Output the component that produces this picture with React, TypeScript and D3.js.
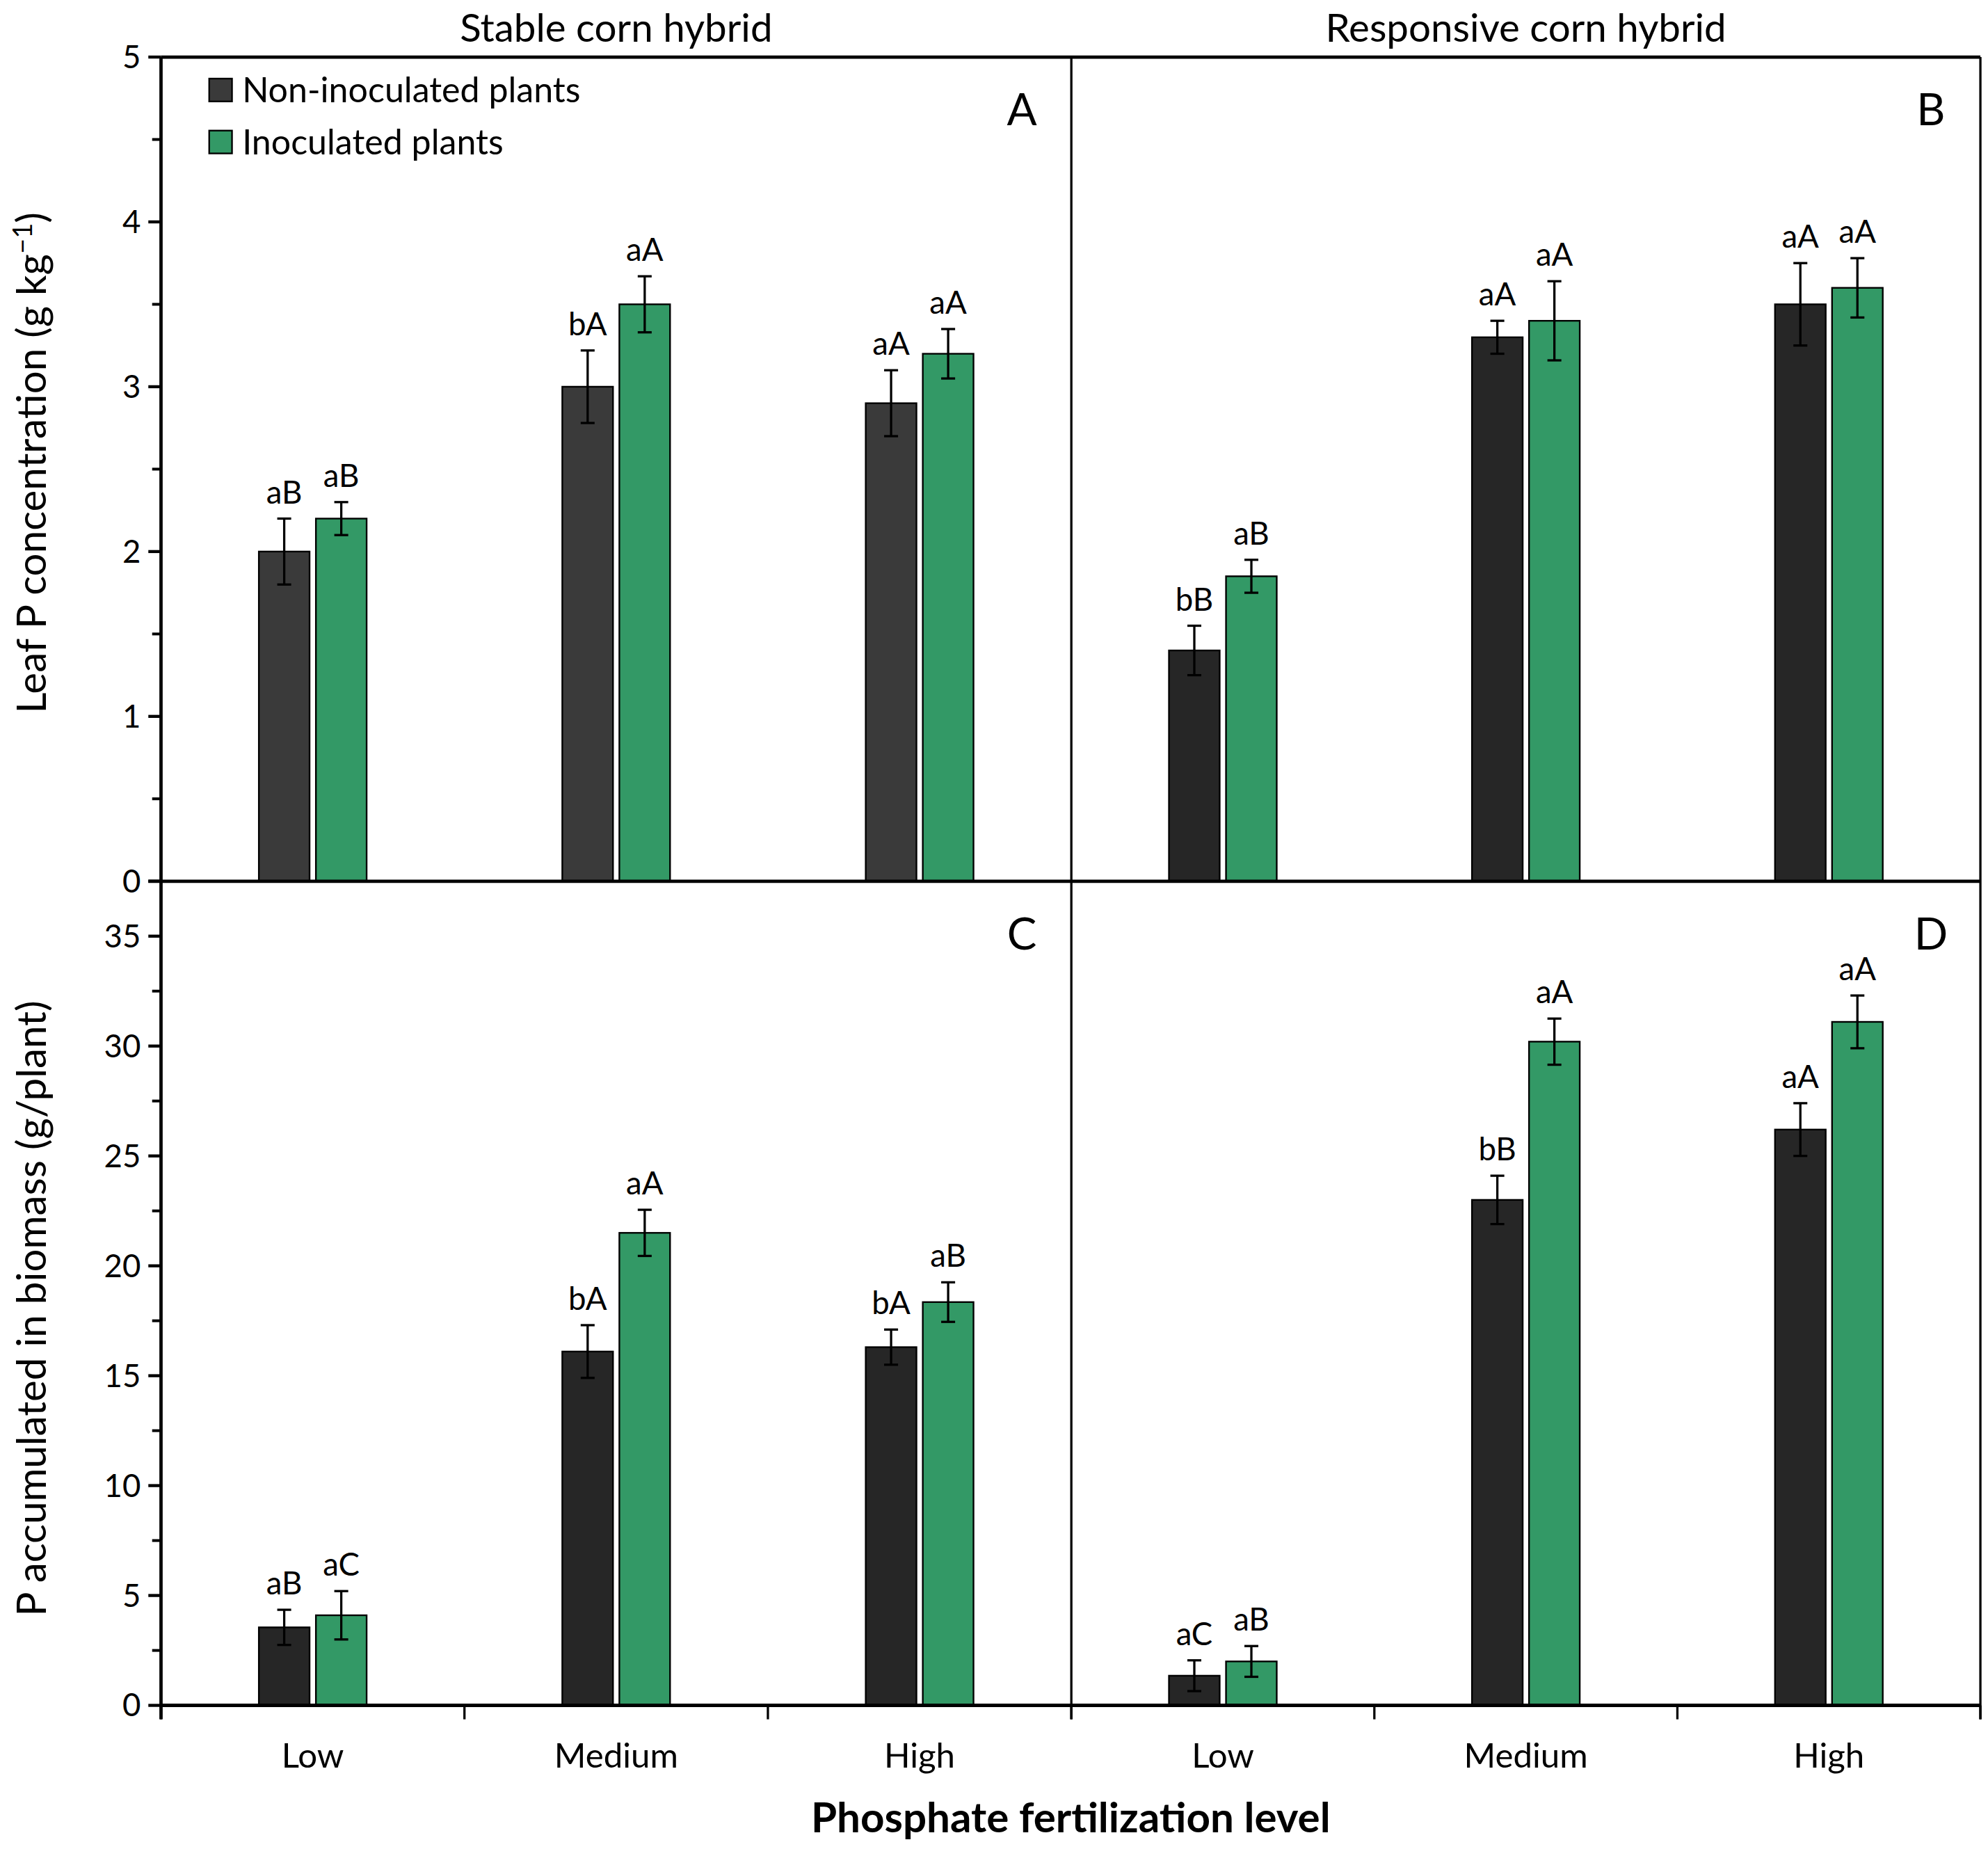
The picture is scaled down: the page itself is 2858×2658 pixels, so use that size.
import * as d3 from "d3";

// categories and series
const LEVELS = ["Low", "Medium", "High"];
const SERIES = ["Non-inoculated plants", "Inoculated plants"];

// Panel A: stable hybrid, leaf P (g/kg)
const stableLeafNon = [2.0, 3.0, 2.9];
const stableLeafNonErr = [0.2, 0.22, 0.2];
const stableLeafIno = [2.2, 3.5, 3.2];
const stableLeafInoErr = [0.1, 0.17, 0.15];
const stableLeafNonLbl = ["aB", "bA", "aA"];
const stableLeafInoLbl = ["aB", "aA", "aA"];

// Panel B: responsive hybrid, leaf P
const respLeafNon = [1.4, 3.3, 3.5];
const respLeafNonErr = [0.15, 0.1, 0.25];
const respLeafIno = [1.85, 3.4, 3.6];
const respLeafInoErr = [0.1, 0.24, 0.18];
const respLeafNonLbl = ["bB", "aA", "aA"];
const respLeafInoLbl = ["aB", "aA", "aA"];

// Panel C: stable hybrid, P accumulated (g/plant)
const stableAccNon = [3.55, 16.1, 16.3];
const stableAccNonErr = [0.8, 1.2, 0.8];
const stableAccIno = [4.1, 21.5, 18.35];
const stableAccInoErr = [1.1, 1.05, 0.9];
const stableAccNonLbl = ["aB", "bA", "bA"];
const stableAccInoLbl = ["aC", "aA", "aB"];

// Panel D: responsive hybrid, P accumulated
const respAccNon = [1.35, 23.0, 26.2];
const respAccNonErr = [0.7, 1.1, 1.2];
const respAccIno = [2.0, 30.2, 31.1];
const respAccInoErr = [0.7, 1.05, 1.2];
const respAccNonLbl = ["aC", "bB", "aA"];
const respAccInoLbl = ["aB", "aA", "aA"];

const leafTicks = [0, 1, 2, 3, 4, 5];
const accTicks = [0, 5, 10, 15, 20, 25, 30, 35];

const FONT = "Lato, 'Open Sans', sans-serif";
const GREEN = "#339966";

// layout (drawn in a 1568-wide view box, scaled up to the page)
const VW = 1568;
const VH = (2658 * VW) / 2858;
const X0 = 127, XM = 845, X1 = 1562;
const YT = 45, YM = 695, YB = 1345;

type Panel = {
  letter: string;
  left: number;
  right: number;
  top: number;
  bottom: number;
  yMax: number;
  non: number[]; nonErr: number[]; ino: number[]; inoErr: number[];
  nonLbl: string[]; inoLbl: string[];
  nonColor: string;
};

const panels: Panel[] = [
  { letter: "A", left: X0, right: XM, top: YT, bottom: YM, yMax: 5,
    non: stableLeafNon, nonErr: stableLeafNonErr, ino: stableLeafIno, inoErr: stableLeafInoErr,
    nonLbl: stableLeafNonLbl, inoLbl: stableLeafInoLbl, nonColor: "#3a3a3a" },
  { letter: "B", left: XM, right: X1, top: YT, bottom: YM, yMax: 5,
    non: respLeafNon, nonErr: respLeafNonErr, ino: respLeafIno, inoErr: respLeafInoErr,
    nonLbl: respLeafNonLbl, inoLbl: respLeafInoLbl, nonColor: "#262626" },
  { letter: "C", left: X0, right: XM, top: YM, bottom: YB, yMax: 37.5,
    non: stableAccNon, nonErr: stableAccNonErr, ino: stableAccIno, inoErr: stableAccInoErr,
    nonLbl: stableAccNonLbl, inoLbl: stableAccInoLbl, nonColor: "#262626" },
  { letter: "D", left: XM, right: X1, top: YM, bottom: YB, yMax: 37.5,
    non: respAccNon, nonErr: respAccNonErr, ino: respAccIno, inoErr: respAccInoErr,
    nonLbl: respAccNonLbl, inoLbl: respAccInoLbl, nonColor: "#262626" },
];

function PanelBars({ p }: { p: Panel }) {
  const x = d3.scaleBand<string>().domain(LEVELS).range([p.left, p.right]);
  const y = d3.scaleLinear().domain([0, p.yMax]).range([p.bottom, p.top]);
  const barW = 40;
  const gap = 5;
  const series = [
    { vals: p.non, err: p.nonErr, lbl: p.nonLbl, color: p.nonColor, off: -gap / 2 - barW },
    { vals: p.ino, err: p.inoErr, lbl: p.inoLbl, color: GREEN, off: gap / 2 },
  ];
  return (
    <g>
      {series.map((s, si) =>
        LEVELS.map((lev, i) => {
          const cx = x(lev)! + x.bandwidth() / 2;
          const bx = cx + s.off;
          const mid = bx + barW / 2;
          const yv = y(s.vals[i]);
          const yHi = y(s.vals[i] + s.err[i]);
          const yLo = y(s.vals[i] - s.err[i]);
          return (
            <g key={`${si}-${i}`}>
              <rect x={bx} y={yv} width={barW} height={p.bottom - yv}
                fill={s.color} stroke="#000" strokeWidth={1.3} />
              <line x1={mid} x2={mid} y1={yHi} y2={yLo} stroke="#000" strokeWidth={1.8} />
              <line x1={mid - 5.5} x2={mid + 5.5} y1={yHi} y2={yHi} stroke="#000" strokeWidth={1.8} />
              <line x1={mid - 5.5} x2={mid + 5.5} y1={yLo} y2={yLo} stroke="#000" strokeWidth={1.8} />
              <text x={mid} y={yHi - 12} textAnchor="middle" fontSize={25}>{s.lbl[i]}</text>
            </g>
          );
        })
      )}
      <text x={p.right - 39} y={p.top + 54} textAnchor="middle" fontSize={35}>{p.letter}</text>
    </g>
  );
}

function YAxis({ top, bottom, yMax, ticks, minor }: { top: number; bottom: number; yMax: number; ticks: number[]; minor: number }) {
  const y = d3.scaleLinear().domain([0, yMax]).range([bottom, top]);
  const minors = d3.range(minor, yMax, minor * 2);
  return (
    <g>
      {ticks.map((t) => (
        <g key={`M${t}`}>
          <line x1={X0 - 10} x2={X0} y1={y(t)} y2={y(t)} stroke="#000" strokeWidth={2.4} />
          <text x={111} y={y(t)} dy="0.35em" textAnchor="end" fontSize={25}>{t}</text>
        </g>
      ))}
      {minors.map((t) => (
        <line key={`m${t}`} x1={X0 - 7} x2={X0} y1={y(t)} y2={y(t)} stroke="#000" strokeWidth={2.2} />
      ))}
    </g>
  );
}

export default function App() {
  const xl = d3.scaleBand<string>().domain(LEVELS).range([X0, XM]);
  const xr = d3.scaleBand<string>().domain(LEVELS).range([XM, X1]);
  const xTicks = [X0, X0 + xl.step(), X0 + 2 * xl.step(), XM, XM + xr.step(), XM + 2 * xr.step(), X1];
  return (
    <svg width={2858} height={2658} viewBox={`0 0 ${VW} ${VH}`}
      style={{ position: "absolute", left: 0, top: 0, background: "#fff" }}
      fontFamily={FONT} fill="#000">
      <rect x={0} y={0} width={VW} height={VH} fill="#fff" />

      {/* column titles */}
      <text x={(X0 + XM) / 2} y={33} textAnchor="middle" fontSize={31}>Stable corn hybrid</text>
      <text x={(XM + X1) / 2} y={33} textAnchor="middle" fontSize={31}>Responsive corn hybrid</text>

      {panels.map((p) => <PanelBars key={p.letter} p={p} />)}

      {/* frame lines */}
      <line x1={X0} x2={X1} y1={YT} y2={YT} stroke="#000" strokeWidth={2.6} />
      <line x1={X0} x2={X0} y1={YT} y2={YB + 11} stroke="#000" strokeWidth={2.6} />
      <line x1={X0 - 10} x2={X1} y1={YM} y2={YM} stroke="#000" strokeWidth={2.6} />
      <line x1={X0} x2={X1} y1={YB} y2={YB} stroke="#000" strokeWidth={2.8} />
      <line x1={XM} x2={XM} y1={YT} y2={YB + 11} stroke="#000" strokeWidth={1.8} />
      <line x1={X1} x2={X1} y1={YT} y2={YB + 11} stroke="#000" strokeWidth={1.8} />

      <YAxis top={YT} bottom={YM} yMax={5} ticks={leafTicks} minor={0.5} />
      <YAxis top={YM} bottom={YB} yMax={37.5} ticks={accTicks} minor={2.5} />

      {/* x ticks and category labels */}
      {xTicks.map((t, i) => (
        <line key={i} x1={t} x2={t} y1={YB} y2={YB + 11} stroke="#000" strokeWidth={1.8} />
      ))}
      {LEVELS.map((lev) => (
        <g key={lev}>
          <text x={xl(lev)! + xl.bandwidth() / 2} y={1394} textAnchor="middle" fontSize={27}>{lev}</text>
          <text x={xr(lev)! + xr.bandwidth() / 2} y={1394} textAnchor="middle" fontSize={27}>{lev}</text>
        </g>
      ))}

      {/* axis titles */}
      <text x={(X0 + X1) / 2} y={1445} textAnchor="middle" fontSize={33} fontWeight="bold">Phosphate fertilization level</text>
      <text transform={`translate(36, 365) rotate(-90)`} textAnchor="middle" fontSize={32}>
        Leaf P concentration (g kg<tspan dy={-11} fontSize={21}>−1</tspan><tspan dy={11}>)</tspan>
      </text>
      <text transform={`translate(36, 1032) rotate(-90)`} textAnchor="middle" fontSize={32}>
        P accumulated in biomass (g/plant)
      </text>

      {/* legend */}
      {SERIES.map((s, i) => (
        <g key={s}>
          <rect x={165} y={62 + i * 41} width={18} height={18}
            fill={i === 0 ? "#3a3a3a" : GREEN} stroke="#000" strokeWidth={1.3} />
          <text x={191} y={71 + i * 41} dy="0.35em" fontSize={27.5}>{s}</text>
        </g>
      ))}
    </svg>
  );
}
